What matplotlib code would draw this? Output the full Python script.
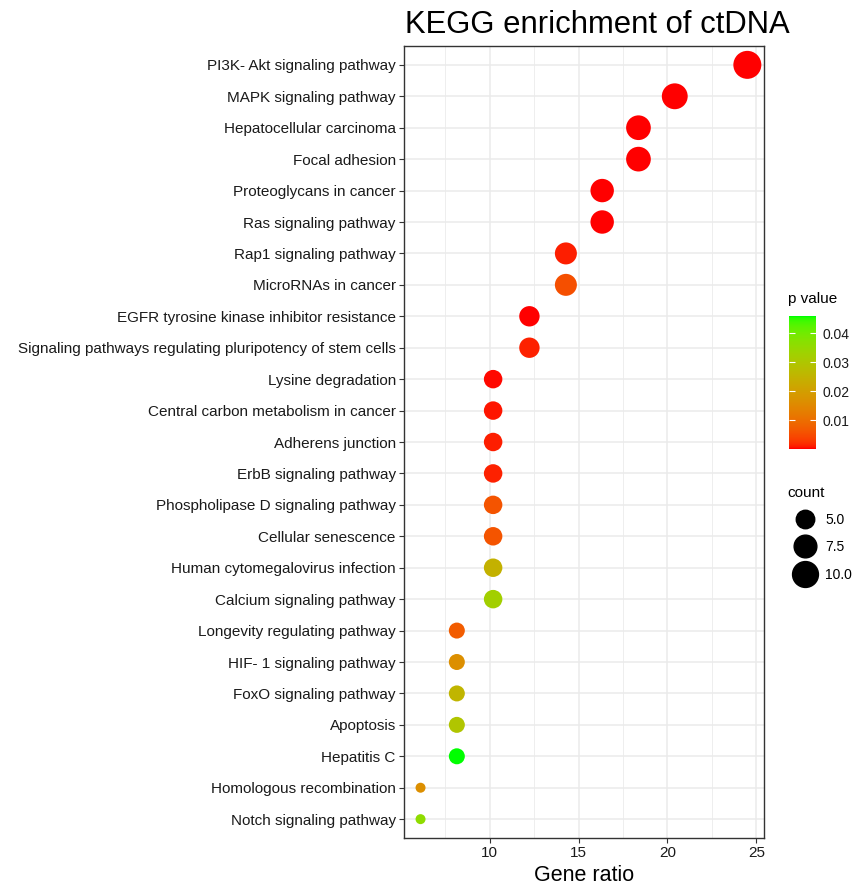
import numpy as np
import matplotlib
matplotlib.use("Agg")
import matplotlib.pyplot as plt
from matplotlib.colors import ListedColormap, Normalize
from matplotlib.lines import Line2D
import matplotlib.colorbar as mcolorbar

plt.rcParams['font.family'] = ['Liberation Sans', 'DejaVu Sans']

pathways = [
    "PI3K- Akt signaling pathway",
    "MAPK signaling pathway",
    "Hepatocellular carcinoma",
    "Focal adhesion",
    "Proteoglycans in cancer",
    "Ras signaling pathway",
    "Rap1 signaling pathway",
    "MicroRNAs in cancer",
    "EGFR tyrosine kinase inhibitor resistance",
    "Signaling pathways regulating pluripotency of stem cells",
    "Lysine degradation",
    "Central carbon metabolism in cancer",
    "Adherens junction",
    "ErbB signaling pathway",
    "Phospholipase D signaling pathway",
    "Cellular senescence",
    "Human cytomegalovirus infection",
    "Calcium signaling pathway",
    "Longevity regulating pathway",
    "HIF- 1 signaling pathway",
    "FoxO signaling pathway",
    "Apoptosis",
    "Hepatitis C",
    "Homologous recombination",
    "Notch signaling pathway",
]
counts = [12, 10, 9, 9, 8, 8, 7, 7, 6, 6, 5, 5, 5, 5, 5, 5, 5, 5, 4, 4, 4, 4, 4, 3, 3]
gene_ratio = [24.49, 20.41, 18.37, 18.37, 16.33, 16.33, 14.29, 14.29, 12.24, 12.24,
              10.20, 10.20, 10.20, 10.20, 10.20, 10.20, 10.20, 10.20,
              8.16, 8.16, 8.16, 8.16, 8.16, 6.12, 6.12]
p_values = [0.0002, 0.0002, 0.0002, 0.0002, 0.0003, 0.0003, 0.0012, 0.0055, 0.0003, 0.0014,
            0.0005, 0.0008, 0.0011, 0.0014, 0.0062, 0.0062, 0.0245, 0.0325,
            0.0072, 0.0165, 0.0255, 0.0295, 0.0459, 0.0165, 0.0360]
cbar_ticks = [0.01, 0.02, 0.03, 0.04]
xticks = [10, 15, 20, 25]
size_legend = [5.0, 7.5, 10.0]
size_legend_labels = ["5.0", "7.5", "10.0"]

# ---- Lab gradient red -> green (like ggplot scale_colour_gradient) ----
def srgb_to_lin(c):
    c = np.asarray(c, float)
    return np.where(c <= 0.04045, c / 12.92, ((c + 0.055) / 1.055) ** 2.4)

def lin_to_srgb(c):
    c = np.clip(c, 0, 1)
    return np.where(c <= 0.0031308, 12.92 * c, 1.055 * c ** (1 / 2.4) - 0.055)

M = np.array([[0.4124, 0.3576, 0.1805], [0.2126, 0.7152, 0.0722], [0.0193, 0.1192, 0.9505]])
Minv = np.linalg.inv(M)
WHITE = np.array([0.95047, 1.0, 1.08883])

def f_lab(t):
    d = 6 / 29
    return np.where(t > d ** 3, np.cbrt(t), t / (3 * d * d) + 4 / 29)

def finv_lab(t):
    d = 6 / 29
    return np.where(t > d, t ** 3, 3 * d * d * (t - 4 / 29))

def rgb_to_lab(rgb):
    xyz = M @ srgb_to_lin(rgb) / WHITE
    fx, fy, fz = f_lab(xyz)
    return np.array([116 * fy - 16, 500 * (fx - fy), 200 * (fy - fz)])

def lab_to_rgb(lab):
    L, a, b = lab
    fy = (L + 16) / 116
    fx = fy + a / 500
    fz = fy - b / 200
    xyz = np.array([finv_lab(fx), finv_lab(fy), finv_lab(fz)]) * WHITE
    return np.clip(lin_to_srgb(Minv @ xyz), 0, 1)

lab_lo = rgb_to_lab([1, 0, 0])
lab_hi = rgb_to_lab([0, 1, 0])
cols = [lab_to_rgb(lab_lo + (lab_hi - lab_lo) * t) for t in np.linspace(0, 1, 256)]
cmap = ListedColormap(cols)
norm = Normalize(vmin=min(p_values), vmax=max(p_values))

def diam_px(c):
    c = np.asarray(c, float)
    lo, hi = min(counts), max(counts)
    return 10.0 + 18.0 * np.sqrt(np.clip((c - lo) / (hi - lo), 0, None))

DPI = 100
fig = plt.figure(figsize=(8.6, 8.88), dpi=DPI)
ax = fig.add_axes([0.470, 0.0563, 0.418, 0.8919])

n = len(pathways)
ypos = np.arange(n)[::-1]
sizes = (diam_px(counts) * 72 / DPI) ** 2
ax.scatter(gene_ratio, ypos, s=sizes, c=p_values, cmap=cmap, norm=norm,
           linewidths=0, zorder=3)

ax.set_yticks(ypos)
ax.set_yticklabels(pathways)
ax.set_ylim(-0.6, n - 1 + 0.6)
xr = max(gene_ratio) - min(gene_ratio)
ax.set_xlim(min(gene_ratio) - 0.05 * xr, max(gene_ratio) + 0.05 * xr)
ax.set_xticks(xticks)
ax.set_xticks([7.5, 12.5, 17.5, 22.5], minor=True)
ax.grid(which='major', color='#EBEBEB', linewidth=1.1, zorder=0)
ax.grid(which='minor', axis='x', color='#EBEBEB', linewidth=0.6, zorder=0)
ax.set_axisbelow(True)
ax.tick_params(axis='both', which='major', length=3.5, width=0.8, color='#333333',
               labelsize=11, labelcolor='#1a1a1a', pad=2.5)
ax.tick_params(axis='both', which='minor', length=0)
for sp in ax.spines.values():
    sp.set_color('#333333')
    sp.set_linewidth(1.0)
ax.set_xlabel("Gene ratio", fontsize=15.5, color='black', labelpad=3)
fig.text(0.471, 0.963, "KEGG enrichment of ctDNA", fontsize=22.3, ha='left', va='baseline')

# colour bar legend
fig.text(788 / 860, 1 - 303 / 888, "p value", fontsize=11, ha='left', va='baseline')
cax = fig.add_axes([789 / 860, 1 - 449 / 888, 27 / 860, 133 / 888])
cb = mcolorbar.ColorbarBase(cax, cmap=cmap, norm=norm, orientation='vertical')
cb.outline.set_visible(False)
cb.set_ticks(cbar_ticks)
cb.set_ticklabels([f"{t:.2f}" for t in cbar_ticks])
cax.tick_params(direction='in', color='white', left=True, right=True, length=4,
                width=0.8, labelsize=10, labelcolor='#1a1a1a', pad=5)

# size legend
fig.text(787 / 860, 1 - 497 / 888, "count", fontsize=11, ha='left', va='baseline')
handles = [Line2D([], [], linestyle='none', marker='o', color='black',
                  markersize=float(diam_px(v)) * 72 / DPI) for v in size_legend]
leg = fig.legend(handles, size_legend_labels, loc='upper left',
                 bbox_to_anchor=(781.4 / 860, 1 - 507 / 888), frameon=False,
                 fontsize=10, labelspacing=0.99, handlelength=2.6,
                 handletextpad=0.15, borderaxespad=0, borderpad=0.4)

fig.savefig("out.png", dpi=DPI, facecolor='white')
